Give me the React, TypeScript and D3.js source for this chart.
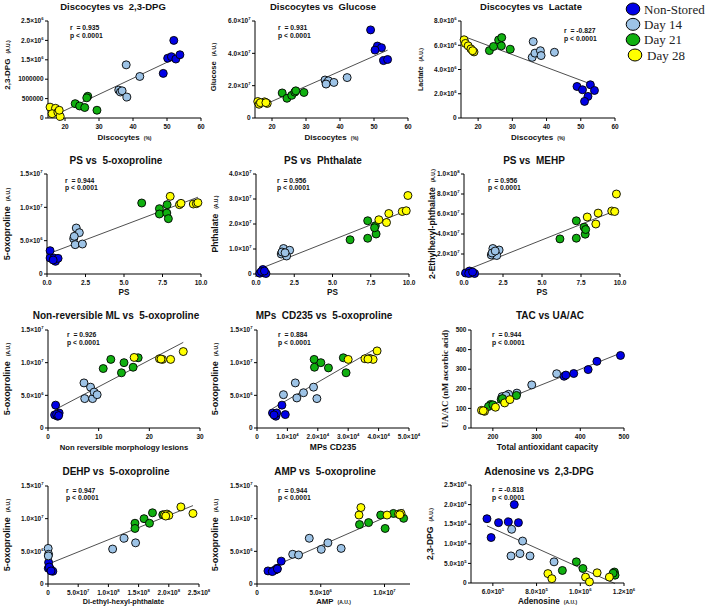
import React from 'react';
import * as d3 from 'd3';

type XY = [number, number];

// ---------- categories ----------
const GROUPS = ['Non-Stored', 'Day 14', 'Day 21', 'Day 28'];
const GROUP_COLORS = ['#0000e6', '#9dc3e6', '#10b010', '#ffff00'];

// ---------- data (per panel: [Non-Stored, Day 14, Day 21, Day 28]) ----------
const discDpg: XY[][] = [
  [[52.0, 2.0e6], [50.2, 1.54e6], [51.3, 1.58e6], [52.6, 1.52e6], [53.8, 1.63e6], [48.9, 1.15e6]],
  [[38.0, 1.37e6], [42.0, 1.07e6], [35.8, 0.72e6], [36.3, 0.67e6], [36.8, 0.7e6], [38.2, 0.54e6]],
  [[26.7, 0.56e6], [23.0, 0.37e6], [24.3, 0.31e6], [25.8, 0.27e6], [29.4, 0.2e6], [26.4, 0.52e6]],
  [[15.6, 0.28e6], [17.2, 0.25e6], [16.2, 0.11e6], [17.9, 0.15e6], [18.6, 0.04e6], [18.3, 0.2e6]],
];
const discGlucose: XY[][] = [
  [[49.0, 5.45e7], [51.0, 4.45e7], [52.2, 4.35e7], [50.3, 4.2e7], [52.8, 3.55e7], [54.0, 3.62e7]],
  [[35.6, 2.35e7], [36.0, 2.15e7], [36.6, 2.3e7], [38.2, 2.2e7], [42.1, 2.5e7], [35.9, 2.1e7]],
  [[23.0, 1.55e7], [24.4, 1.22e7], [25.8, 1.4e7], [26.7, 1.6e7], [27.0, 1.68e7], [29.4, 1.58e7]],
  [[15.8, 1.02e7], [16.2, 0.85e7], [17.8, 1.0e7], [18.6, 0.9e7], [16.6, 0.95e7], [18.2, 0.95e7]],
];
const discLactate: XY[][] = [
  [[48.9, 2.6e6], [50.5, 2.33e6], [52.8, 2.74e6], [54.0, 2.27e6], [52.1, 1.78e6], [51.1, 1.37e6]],
  [[36.1, 6.3e6], [35.8, 5.0e6], [36.6, 5.35e6], [38.2, 5.55e6], [38.4, 5.15e6], [42.3, 5.42e6]],
  [[23.3, 5.56e6], [24.5, 5.9e6], [26.0, 6.44e6], [26.9, 6.63e6], [26.8, 5.95e6], [29.4, 5.67e6]],
  [[15.9, 6.45e6], [16.3, 6.15e6], [17.1, 5.95e6], [17.9, 5.7e6], [18.8, 5.45e6], [18.4, 5.55e6]],
];
const psOxo: XY[][] = [
  [[0.2, 3.5e6], [0.2, 2.4e6], [0.45, 2.4e6], [0.55, 1.9e6], [0.72, 2.35e6], [0.4, 2.1e6]],
  [[1.9, 6.9e6], [2.1, 6.2e6], [1.73, 5.3e6], [1.83, 4.4e6], [2.3, 4.5e6], [1.77, 5.65e6]],
  [[6.15, 10.65e6], [7.3, 9.8e6], [7.3, 9.0e6], [7.78, 9.15e6], [7.8, 10.4e6], [7.88, 8.3e6]],
  [[8.0, 11.65e6], [8.6, 10.4e6], [8.7, 10.6e6], [9.5, 10.5e6], [9.7, 10.55e6], [9.8, 10.7e6]],
];
const psPhthalate: XY[][] = [
  [[0.25, 0.3e6], [0.45, 1.8e6], [0.5, 0.5e6], [0.65, 0.2e6], [0.35, 1.0e6], [0.55, 1.2e6]],
  [[1.8, 1.02e7], [2.2, 0.95e7], [1.65, 0.8e7], [2.0, 0.72e7], [1.7, 0.88e7], [1.9, 0.85e7]],
  [[6.15, 1.37e7], [7.3, 2.13e7], [7.3, 1.43e7], [7.8, 1.93e7], [7.85, 1.6e7], [7.75, 1.85e7]],
  [[8.03, 2.17e7], [8.53, 2.06e7], [8.68, 2.42e7], [9.56, 2.5e7], [9.82, 2.53e7], [9.93, 3.14e7]],
];
const psMehp: XY[][] = [
  [[0.1, 0.1e7], [0.35, 0.3e7], [0.45, 0.1e7], [0.68, 0.05e7], [0.3, 0.05e7], [0.55, 0.2e7]],
  [[1.85, 2.55e7], [2.25, 2.4e7], [1.75, 1.9e7], [2.1, 1.85e7], [1.8, 2.1e7], [2.0, 2.3e7]],
  [[6.15, 3.51e7], [7.2, 5.32e7], [7.2, 3.58e7], [7.7, 4.68e7], [7.77, 3.98e7], [7.8, 4.45e7]],
  [[7.9, 5.7e7], [8.45, 5.0e7], [8.6, 6.09e7], [9.47, 6.3e7], [9.66, 6.25e7], [9.77, 8.0e7]],
];
const nrmlOxo: XY[][] = [
  [[1.5, 3.5e6], [1.3, 2.0e6], [1.9, 1.8e6], [2.2, 2.3e6], [1.7, 2.1e6], [2.1, 1.9e6]],
  [[7.1, 6.9e6], [8.4, 6.25e6], [7.25, 4.5e6], [8.8, 4.5e6], [9.1, 5.5e6], [9.7, 5.1e6]],
  [[10.9, 9.1e6], [12.4, 10.5e6], [14.5, 8.45e6], [15.0, 10.0e6], [16.8, 9.3e6], [17.8, 10.75e6]],
  [[17.0, 10.8e6], [22.0, 10.6e6], [22.6, 10.5e6], [24.2, 10.5e6], [26.7, 11.7e6], [22.3, 10.55e6]],
];
const mpsOxo: XY[][] = [
  [[5100, 2.3e6], [6200, 1.8e6], [8200, 3.5e6], [9300, 2.05e6], [6500, 2.3e6], [5600, 2.0e6]],
  [[8700, 5.1e6], [12600, 6.9e6], [13100, 4.6e6], [15300, 5.4e6], [18600, 6.25e6], [19700, 4.5e6]],
  [[18800, 10.5e6], [18900, 9.3e6], [21000, 10.0e6], [23500, 9.2e6], [28400, 10.75e6], [29300, 8.45e6]],
  [[30000, 10.5e6], [35500, 10.6e6], [37100, 10.65e6], [38200, 10.5e6], [39500, 11.8e6], [36500, 10.55e6]],
];
const tacUa: XY[][] = [
  [[363, 264], [367, 270], [385, 278], [418, 298], [438, 340], [492, 370]],
  [[221, 160], [236, 172], [255, 178], [289, 220], [346, 277], [230, 165]],
  [[195, 120], [219, 146], [254, 166], [190, 110], [200, 118], [222, 150]],
  [[174, 90], [181, 85], [206, 106], [227, 128], [239, 145], [178, 88]],
];
const dehpOxo: XY[][] = [
  [[1e6, 3.3e6], [0.5e6, 2.4e6], [4e6, 2.3e6], [8e6, 1.95e6], [2e6, 2.6e6], [5e6, 2.0e6]],
  [[0.3e6, 5.45e6], [1e6, 4.55e6], [1.07e8, 5.35e6], [1.26e8, 7.0e6], [1.45e8, 6.3e6], [0.5e6, 4.3e6]],
  [[1.44e8, 9.3e6], [1.44e8, 8.5e6], [1.59e8, 10.0e6], [1.68e8, 9.3e6], [1.73e8, 10.9e6], [1.9e8, 10.6e6]],
  [[1.93e8, 10.6e6], [1.97e8, 10.7e6], [2.0e8, 10.5e6], [2.2e8, 11.8e6], [2.4e8, 10.8e6], [1.95e8, 10.4e6]],
];
const ampOxo: XY[][] = [
  [[0.86e6, 2.0e6], [1.44e6, 2.15e6], [1.57e6, 2.4e6], [1.9e6, 3.5e6], [1.2e6, 1.9e6], [1.6e6, 2.3e6]],
  [[2.8e6, 4.55e6], [3.26e6, 4.45e6], [4.1e6, 7.0e6], [5.04e6, 5.3e6], [5.56e6, 6.3e6], [6.6e6, 5.45e6]],
  [[8.04e6, 9.1e6], [8.75e6, 9.4e6], [9.7e6, 10.55e6], [10.05e6, 8.5e6], [10.7e6, 10.8e6], [11.5e6, 10.05e6]],
  [[8.15e6, 11.7e6], [8.0e6, 10.55e6], [10.2e6, 10.55e6], [11.1e6, 10.7e6], [11.3e6, 10.8e6], [11.2e6, 10.6e6]],
];
const adoDpg: XY[][] = [
  [[5.73e5, 1.64e6], [5.92e5, 1.16e6], [6.26e5, 1.54e6], [6.71e5, 1.56e6], [7.17e5, 1.54e6], [6.98e5, 2.0e6]],
  [[6.86e5, 1.37e6], [7.36e5, 1.07e6], [6.83e5, 0.69e6], [7.24e5, 0.75e6], [7.7e5, 0.69e6], [8.8e5, 0.54e6]],
  [[9.18e5, 0.32e6], [9.82e5, 0.54e6], [1.012e6, 0.37e6], [1.156e6, 0.28e6], [1.159e6, 0.2e6], [1.15e6, 0.25e6]],
  [[8.52e5, 0.24e6], [8.7e5, 0.11e6], [1.024e6, 0.15e6], [1.042e6, 0.03e6], [1.077e6, 0.26e6], [1.133e6, 0.15e6]],
];

// ---------- ticks ----------
const discTicks = [20, 30, 40, 50, 60];
const discTickLabels = ['20', '30', '40', '50', '60'];
const dpgTicks = [0, 5e5, 1e6, 1.5e6, 2e6, 2.5e6];
const dpgTickLabels = ['0', '500000', '1000000', '1.5×10^6', '2.0×10^6', '2.5×10^6'];
const glucoseTicks = [0, 2e7, 4e7, 6e7];
const glucoseTickLabels = ['0', '2.0×10^7', '4.0×10^7', '6.0×10^7'];
const lactateTicks = [0, 2e6, 4e6, 6e6, 8e6];
const lactateTickLabels = ['0', '2.0×10^6', '4.0×10^6', '6.0×10^6', '8.0×10^6'];
const psTicks = [0, 2.5, 5, 7.5, 10];
const psTickLabels = ['0.0', '2.5', '5.0', '7.5', '10.0'];
const oxoTicks = [0, 5e6, 1e7, 1.5e7];
const oxoTickLabels = ['0', '5.0×10^6', '1.0×10^7', '1.5×10^7'];
const phthTicks = [0, 1e7, 2e7, 3e7, 4e7];
const phthTickLabels = ['0', '1.0×10^7', '2.0×10^7', '3.0×10^7', '4.0×10^7'];
const mehpTicks = [0, 2e7, 4e7, 6e7, 8e7, 1e8];
const mehpTickLabels = ['0', '2.0×10^7', '4.0×10^7', '6.0×10^7', '8.0×10^7', '1.0×10^8'];
const nrmlTicks = [0, 10, 20, 30];
const nrmlTickLabels = ['0', '10', '20', '30'];
const mpsTicks = [0, 1e4, 2e4, 3e4, 4e4, 5e4];
const mpsTickLabels = ['0', '1.0×10^4', '2.0×10^4', '3.0×10^4', '4.0×10^4', '5.0×10^4'];
const tacTicks = [200, 300, 400, 500];
const tacTickLabels = ['200', '300', '400', '500'];
const uaTicks = [0, 100, 200, 300, 400, 500];
const uaTickLabels = ['0', '100', '200', '300', '400', '500'];
const dehpTicks = [0, 5e7, 1e8, 1.5e8, 2e8, 2.5e8];
const dehpTickLabels = ['0', '5.0×10^7', '1.0×10^8', '1.5×10^8', '2.0×10^8', '2.5×10^8'];
const ampTicks = [0, 5e6, 1e7];
const ampTickLabels = ['0', '5.0×10^6', '1.0×10^7'];
const adoTicks = [6e5, 8e5, 1e6, 1.2e6];
const adoTickLabels = ['6.0×10^5', '8.0×10^5', '1.0×10^6', '1.2×10^6'];
const dpg2Ticks = [0, 5e5, 1e6, 1.5e6, 2e6, 2.5e6];
const dpg2TickLabels = ['0', '5.0×10^5', '1.0×10^6', '1.5×10^6', '2.0×10^6', '2.5×10^6'];

const rValues = ['0.935', '0.931', '-0.827', '0.944', '0.956', '0.956', '0.926', '0.884', '0.944', '0.947', '0.944', '-0.818'];

const SANS = "'Liberation Sans', Arial, Helvetica, sans-serif";
const SERIF = "'Liberation Serif', 'Times New Roman', serif";

interface PanelSpec {
  title: string; titleX: number; titleY: number; titleSize: number;
  x0: number; x1: number; y0: number; y1: number;
  xDomain: [number, number]; yDomain: [number, number];
  xTicks: number[]; xTickLabels: string[];
  yTicks: number[]; yTickLabels: string[];
  xLabel: string; xUnit?: string; xLabelY: number; xLabelSize: number;
  yLabel: string; yUnit?: string; yLabelX: number; yLabelSize: number; yLabelSerif?: boolean; yLabelCy?: number;
  r: string; statX: number; statY: number;
  data: XY[][];
}

const panels: PanelSpec[] = [
  { title: 'Discocytes vs  2,3-DPG', titleX: 113, titleY: 10, titleSize: 9.5,
    x0: 48, x1: 201, y0: 21, y1: 118, xDomain: [15, 60], yDomain: [0, 2.5e6],
    xTicks: discTicks, xTickLabels: discTickLabels, yTicks: dpgTicks, yTickLabels: dpgTickLabels,
    xLabel: 'Discocytes', xUnit: '(%)', xLabelY: 140, xLabelSize: 8,
    yLabel: '2,3-DPG', yUnit: '(A.U.)', yLabelX: 10, yLabelSize: 8, yLabelCy: 65,
    r: rValues[0], statX: 70, statY: 30, data: discDpg },
  { title: 'Discocytes vs  Glucose', titleX: 323, titleY: 10, titleSize: 9.5,
    x0: 255, x1: 408, y0: 21, y1: 118, xDomain: [15, 60], yDomain: [0, 6e7],
    xTicks: discTicks, xTickLabels: discTickLabels, yTicks: glucoseTicks, yTickLabels: glucoseTickLabels,
    xLabel: 'Discocytes', xUnit: '(%)', xLabelY: 140, xLabelSize: 8,
    yLabel: 'Glucose', yUnit: '(A.U.)', yLabelX: 216, yLabelSize: 7.6, yLabelCy: 67,
    r: rValues[1], statX: 278, statY: 30, data: discGlucose },
  { title: 'Discocytes vs  Lactate', titleX: 531, titleY: 10, titleSize: 9.5,
    x0: 461, x1: 615, y0: 21, y1: 118, xDomain: [15, 60], yDomain: [0, 8e6],
    xTicks: discTicks, xTickLabels: discTickLabels, yTicks: lactateTicks, yTickLabels: lactateTickLabels,
    xLabel: 'Discocytes', xUnit: '(%)', xLabelY: 140, xLabelSize: 8,
    yLabel: 'Lactate', yUnit: '(A.U.)', yLabelX: 423, yLabelSize: 7,
    r: rValues[2], statX: 564, statY: 33, data: discLactate },
  { title: 'PS vs  5-oxoproline', titleX: 116, titleY: 164, titleSize: 10,
    x0: 47, x1: 201, y0: 174, y1: 274, xDomain: [0, 10], yDomain: [0, 1.5e7],
    xTicks: psTicks, xTickLabels: psTickLabels, yTicks: oxoTicks, yTickLabels: oxoTickLabels,
    xLabel: 'PS', xLabelY: 295, xLabelSize: 8.2,
    yLabel: '5-oxoproline', yUnit: '(A.U.)', yLabelX: 10, yLabelSize: 9,
    r: rValues[3], statX: 65, statY: 182.5, data: psOxo },
  { title: 'PS vs  Phthalate', titleX: 323, titleY: 164, titleSize: 10,
    x0: 256, x1: 409, y0: 174, y1: 274, xDomain: [0, 10], yDomain: [0, 4e7],
    xTicks: psTicks, xTickLabels: psTickLabels, yTicks: phthTicks, yTickLabels: phthTickLabels,
    xLabel: 'PS', xLabelY: 295, xLabelSize: 8.2,
    yLabel: 'Phthalate', yUnit: '(A.U.)', yLabelX: 218, yLabelSize: 8.6,
    r: rValues[4], statX: 277, statY: 182.5, data: psPhthalate },
  { title: 'PS vs  MEHP', titleX: 534, titleY: 164, titleSize: 10,
    x0: 464, x1: 620, y0: 174, y1: 274, xDomain: [0, 10], yDomain: [0, 1e8],
    xTicks: psTicks, xTickLabels: psTickLabels, yTicks: mehpTicks, yTickLabels: mehpTickLabels,
    xLabel: 'PS', xLabelY: 295, xLabelSize: 8.2,
    yLabel: '2-Ethylhexyl-phthalate', yUnit: '(A.U.)', yLabelX: 435, yLabelSize: 8.6,
    r: rValues[5], statX: 488, statY: 182.5, data: psMehp },
  { title: 'Non-reversible ML vs  5-oxoproline', titleX: 116, titleY: 319, titleSize: 10,
    x0: 48, x1: 200, y0: 330, y1: 428, xDomain: [0, 30], yDomain: [0, 1.5e7],
    xTicks: nrmlTicks, xTickLabels: nrmlTickLabels, yTicks: oxoTicks, yTickLabels: oxoTickLabels,
    xLabel: 'Non reversible morphology lesions', xLabelY: 450, xLabelSize: 7.7,
    yLabel: '5-oxoproline', yUnit: '(A.U.)', yLabelX: 10, yLabelSize: 9,
    r: rValues[6], statX: 67, statY: 337, data: nrmlOxo },
  { title: 'MPs  CD235 vs  5-oxoproline', titleX: 324, titleY: 319, titleSize: 10,
    x0: 257, x1: 409, y0: 330, y1: 428, xDomain: [0, 5e4], yDomain: [0, 1.5e7],
    xTicks: mpsTicks, xTickLabels: mpsTickLabels, yTicks: oxoTicks, yTickLabels: oxoTickLabels,
    xLabel: 'MPs CD235', xLabelY: 450, xLabelSize: 8.5,
    yLabel: '5-oxoproline', yUnit: '(A.U.)', yLabelX: 218, yLabelSize: 9,
    r: rValues[7], statX: 278, statY: 337, data: mpsOxo },
  { title: 'TAC vs UA/AC', titleX: 550, titleY: 319, titleSize: 10,
    x0: 471, x1: 624, y0: 330, y1: 428, xDomain: [150, 500], yDomain: [0, 500],
    xTicks: tacTicks, xTickLabels: tacTickLabels, yTicks: uaTicks, yTickLabels: uaTickLabels,
    xLabel: 'Total antioxidant capacity', xLabelY: 450, xLabelSize: 8.3,
    yLabel: 'UA/AC (nM ascorbic acid)', yLabelX: 448, yLabelSize: 8.6, yLabelSerif: true,
    r: rValues[8], statX: 492, statY: 337, data: tacUa },
  { title: 'DEHP vs  5-oxoproline', titleX: 116, titleY: 475, titleSize: 10,
    x0: 48, x1: 199, y0: 486, y1: 584, xDomain: [0, 2.5e8], yDomain: [0, 1.5e7],
    xTicks: dehpTicks, xTickLabels: dehpTickLabels, yTicks: oxoTicks, yTickLabels: oxoTickLabels,
    xLabel: 'Di-ethyl-hexyl-phthalate', xLabelY: 604, xLabelSize: 7.2,
    yLabel: '5-oxoproline', yUnit: '(A.U.)', yLabelX: 10, yLabelSize: 9,
    r: rValues[9], statX: 66, statY: 492.5, data: dehpOxo },
  { title: 'AMP vs  5-oxoproline', titleX: 325, titleY: 475, titleSize: 10,
    x0: 257, x1: 410, y0: 486, y1: 584, xDomain: [0, 1.2e7], yDomain: [0, 1.5e7],
    xTicks: ampTicks, xTickLabels: ampTickLabels, yTicks: oxoTicks, yTickLabels: oxoTickLabels,
    xLabel: 'AMP', xUnit: '(A.U.)', xLabelY: 604, xLabelSize: 7.8,
    yLabel: '5-oxoproline', yUnit: '(A.U.)', yLabelX: 218, yLabelSize: 9,
    r: rValues[10], statX: 278, statY: 492.5, data: ampOxo },
  { title: 'Adenosine vs  2,3-DPG', titleX: 539, titleY: 475, titleSize: 10,
    x0: 471, x1: 624, y0: 485, y1: 583, xDomain: [5e5, 1.2e6], yDomain: [0, 2.5e6],
    xTicks: adoTicks, xTickLabels: adoTickLabels, yTicks: dpg2Ticks, yTickLabels: dpg2TickLabels,
    xLabel: 'Adenosine', xUnit: '(A.U.)', xLabelY: 604, xLabelSize: 8.2,
    yLabel: '2,3-DPG', yUnit: '(A.U.)', yLabelX: 433, yLabelSize: 8.6,
    r: rValues[11], statX: 492, statY: 492, data: adoDpg },
];

function TickLabel({ s }: { s: string }) {
  const parts = s.split('^');
  return (
    <>
      {parts[0]}
      {parts.length > 1 && <tspan fontSize={4.2} dy={-3}>{parts[1]}</tspan>}
    </>
  );
}

function regression(data: XY[][]) {
  const pts = data.flat();
  const mx = d3.mean(pts, (p) => p[0]) as number;
  const my = d3.mean(pts, (p) => p[1]) as number;
  const sxy = d3.sum(pts, (p) => (p[0] - mx) * (p[1] - my));
  const sxx = d3.sum(pts, (p) => (p[0] - mx) * (p[0] - mx));
  const slope = sxy / sxx;
  const b = my - slope * mx;
  const [lo, hi] = d3.extent(pts, (p) => p[0]) as [number, number];
  return [[lo, b + slope * lo], [hi, b + slope * hi]] as XY[];
}

function Panel({ p }: { p: PanelSpec }) {
  const xs = d3.scaleLinear().domain(p.xDomain).range([p.x0, p.x1]);
  const ys = d3.scaleLinear().domain(p.yDomain).range([p.y1, p.y0]);
  const line = d3.line<XY>().x((d) => xs(d[0])).y((d) => ys(d[1]));
  const reg = regression(p.data);
  const cy = p.yLabelCy ?? (p.y0 + p.y1) / 2;
  const cx = (p.x0 + p.x1) / 2;
  return (
    <g fontFamily={SANS} fill="#111">
      <text x={p.titleX} y={p.titleY} textAnchor="middle" fontSize={p.titleSize} fontWeight="bold"
        style={{ whiteSpace: 'pre' }}>{p.title}</text>
      {/* axes */}
      <line x1={p.x0} x2={p.x0} y1={p.y0} y2={p.y1} stroke="#000" strokeWidth={1} />
      <line x1={p.x0} x2={p.x1} y1={p.y1} y2={p.y1} stroke="#000" strokeWidth={1} />
      {p.yTicks.map((t, i) => (
        <g key={'y' + i}>
          <line x1={p.x0 - 3} x2={p.x0} y1={ys(t)} y2={ys(t)} stroke="#000" strokeWidth={1} />
          <text x={p.x0 - 4.5} y={ys(t)} dy="0.35em" textAnchor="end" fontSize={6.5} fontWeight="bold">
            <TickLabel s={p.yTickLabels[i]} />
          </text>
        </g>
      ))}
      {p.xTicks.map((t, i) => (
        <g key={'x' + i}>
          <line x1={xs(t)} x2={xs(t)} y1={p.y1} y2={p.y1 + 3} stroke="#000" strokeWidth={1} />
          <text x={xs(t)} y={p.y1 + 10.5} textAnchor="middle" fontSize={6.5} fontWeight="bold">
            <TickLabel s={p.xTickLabels[i]} />
          </text>
        </g>
      ))}
      {/* axis labels */}
      <text x={cx} y={p.xLabelY} textAnchor="middle" fontSize={p.xLabelSize} fontWeight="bold">
        {p.xLabel}
        {p.xUnit && <tspan fontSize={5} dx={4}>{p.xUnit}</tspan>}
      </text>
      <text transform={`translate(${p.yLabelX},${cy}) rotate(-90)`} textAnchor="middle"
        fontSize={p.yLabelSize} fontWeight="bold" fontFamily={p.yLabelSerif ? SERIF : SANS}>
        {p.yLabel}
        {p.yUnit && <tspan fontSize={5} dx={5}>{p.yUnit}</tspan>}
      </text>
      {/* stats */}
      <text x={p.statX} y={p.statY} fontSize={6.8} fontWeight="bold" style={{ whiteSpace: 'pre' }}>{'r  = ' + p.r}</text>
      <text x={p.statX} y={p.statY + 7.6} fontSize={6.8} fontWeight="bold" style={{ whiteSpace: 'pre' }}>{'p < 0.0001'}</text>
      {/* regression */}
      <path d={line(reg) || ''} fill="none" stroke="#222" strokeWidth={0.8} />
      {/* points */}
      {p.data.map((grp, gi) => (
        <g key={'g' + gi}>
          {grp.map((d, i) => (
            <circle key={i} cx={xs(d[0])} cy={ys(d[1])} r={4} fill={GROUP_COLORS[gi]} stroke="#000" strokeWidth={0.9} />
          ))}
        </g>
      ))}
    </g>
  );
}

function Legend() {
  const ly = d3.scalePoint<string>().domain(GROUPS).range([9, 55]);
  return (
    <g>
      {GROUPS.map((g, i) => (
        <g key={g}>
          <ellipse cx={633 + (i === 3 ? 2 : 0)} cy={ly(g) as number} rx={6.8} ry={6} fill={GROUP_COLORS[i]} stroke="#000" strokeWidth={1} />
          <text x={644 + (i === 3 ? 3 : 0)} y={(ly(g) as number) + 4.5} fontFamily={SERIF} fontSize={13} fill="#222">{g}</text>
        </g>
      ))}
    </g>
  );
}

export default function App() {
  return (
    <svg width={708} height={608} viewBox="0 0 708 608"
      style={{ position: 'absolute', left: 0, top: 0, background: '#fff' }}>
      <rect width={708} height={608} fill="#fff" />
      {panels.map((p, i) => <Panel key={i} p={p} />)}
      <Legend />
    </svg>
  );
}
